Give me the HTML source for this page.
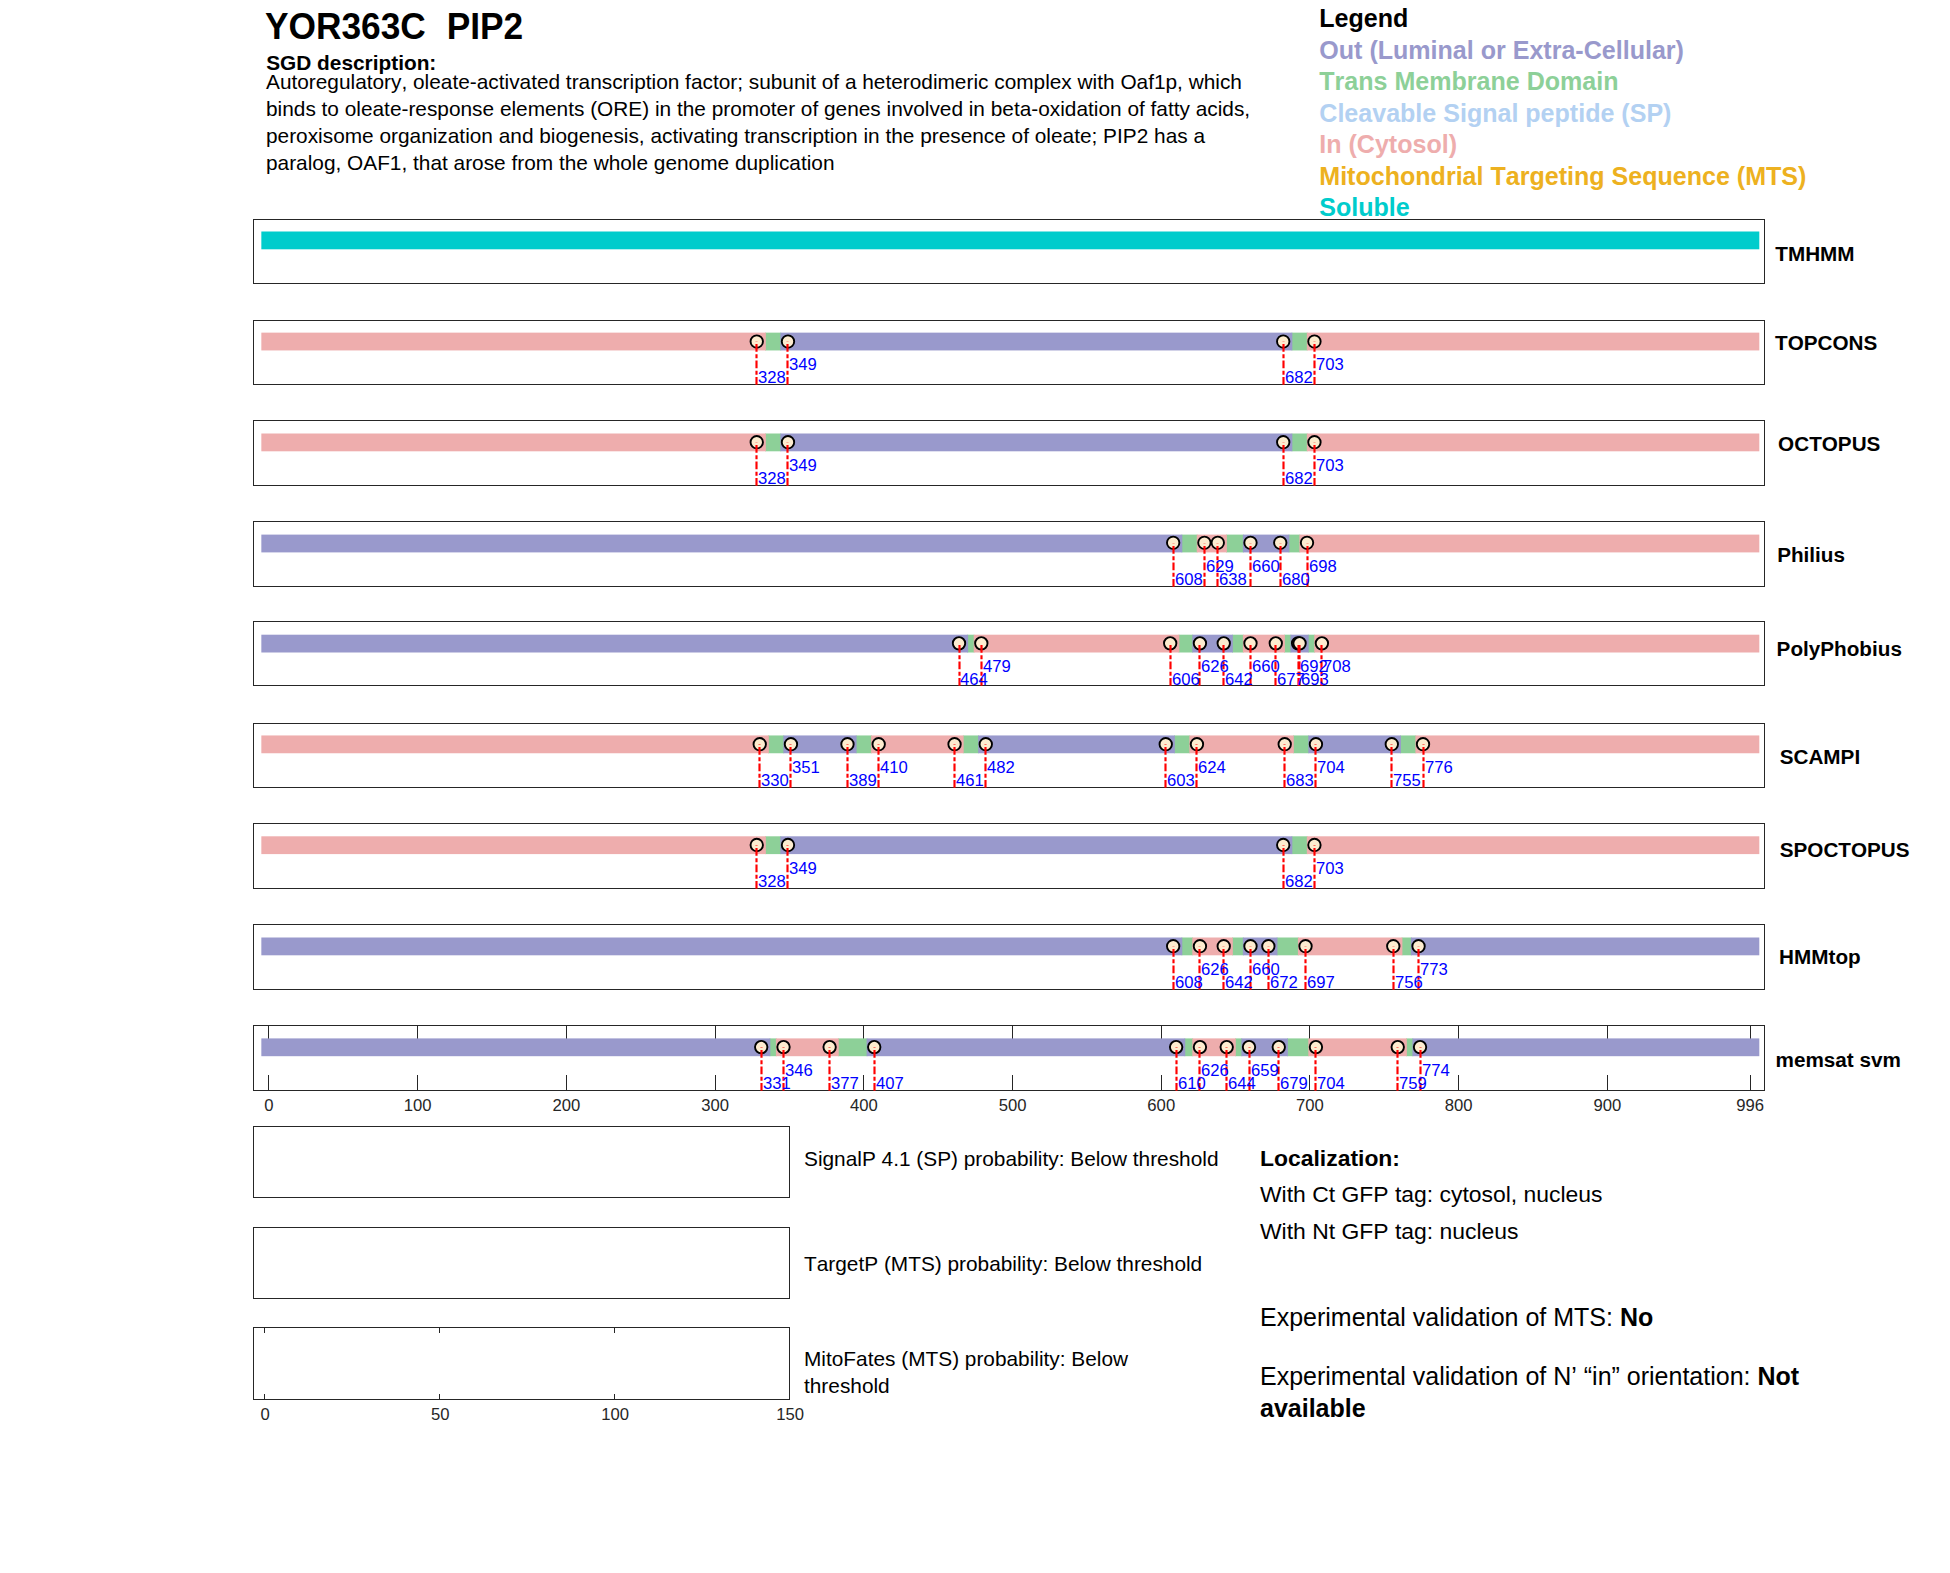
<!DOCTYPE html>
<html><head><meta charset="utf-8"><title>YOR363C PIP2</title>
<style>
html,body{margin:0;padding:0;background:#fff}
body{width:1950px;height:1573px;overflow:hidden}
svg{display:block}
svg text{font-family:"Liberation Sans",Arial,sans-serif;font-kerning:none}
.lb{font-size:16.67px;fill:#00f}
.tk{font-size:16.67px;fill:#262626}
.rn{font-size:20.7px;font-weight:bold;fill:#000}
</style></head><body>
<svg width="1950" height="1573" viewBox="0 0 1950 1573">
<rect width="100%" height="100%" fill="#fff"/>
<g>
<rect x="261.34" y="231.5" width="1497.96" height="17.8" fill="#00CCCC"/>
<rect x="253.5" y="219.5" width="1511.0" height="64" fill="none" stroke="#262626" stroke-width="1"/>
<text x="1775.3" y="261.0" class="rn">TMHMM</text>
</g>
<g>
<rect x="765.05" y="332.64" width="16.12" height="17.8" fill="#8DD098"/>
<rect x="1291.52" y="332.64" width="16.12" height="17.8" fill="#8DD098"/>
<rect x="261.34" y="332.64" width="504.51" height="17.8" fill="#EEADAD"/>
<rect x="780.37" y="332.64" width="511.95" height="17.8" fill="#9999CC"/>
<rect x="1306.84" y="332.64" width="452.46" height="17.8" fill="#EEADAD"/>
<rect x="253.5" y="320.5" width="1511.0" height="64" fill="none" stroke="#262626" stroke-width="1"/>
<circle cx="756.75" cy="341.55" r="6.2" fill="#FDECCF" stroke="#000" stroke-width="1.9"/>
<circle cx="787.98" cy="341.55" r="6.2" fill="#FDECCF" stroke="#000" stroke-width="1.9"/>
<circle cx="1283.22" cy="341.55" r="6.2" fill="#FDECCF" stroke="#000" stroke-width="1.9"/>
<circle cx="1314.45" cy="341.55" r="6.2" fill="#FDECCF" stroke="#000" stroke-width="1.9"/>
<path d="M756.5 384.8V341.54" stroke="#f00" stroke-width="2.15" stroke-dasharray="7.7 2.4 4 2.4" fill="none"/>
<path d="M787.5 384.8V341.54" stroke="#f00" stroke-width="2.15" stroke-dasharray="7.7 2.4 4 2.4" fill="none"/>
<path d="M1283.5 384.8V341.54" stroke="#f00" stroke-width="2.15" stroke-dasharray="7.7 2.4 4 2.4" fill="none"/>
<path d="M1314.5 384.8V341.54" stroke="#f00" stroke-width="2.15" stroke-dasharray="7.7 2.4 4 2.4" fill="none"/>
<text x="758" y="383" class="lb">328</text>
<text x="789" y="370" class="lb">349</text>
<text x="1285" y="383" class="lb">682</text>
<text x="1316" y="370" class="lb">703</text>
<text x="1775" y="350" class="rn">TOPCONS</text>
</g>
<g>
<rect x="765.05" y="433.5" width="16.12" height="17.8" fill="#8DD098"/>
<rect x="1291.52" y="433.5" width="16.12" height="17.8" fill="#8DD098"/>
<rect x="261.34" y="433.5" width="504.51" height="17.8" fill="#EEADAD"/>
<rect x="780.37" y="433.5" width="511.95" height="17.8" fill="#9999CC"/>
<rect x="1306.84" y="433.5" width="452.46" height="17.8" fill="#EEADAD"/>
<rect x="253.5" y="420.5" width="1511.0" height="65" fill="none" stroke="#262626" stroke-width="1"/>
<circle cx="756.75" cy="442.2" r="6.2" fill="#FDECCF" stroke="#000" stroke-width="1.9"/>
<circle cx="787.98" cy="442.2" r="6.2" fill="#FDECCF" stroke="#000" stroke-width="1.9"/>
<circle cx="1283.22" cy="442.2" r="6.2" fill="#FDECCF" stroke="#000" stroke-width="1.9"/>
<circle cx="1314.45" cy="442.2" r="6.2" fill="#FDECCF" stroke="#000" stroke-width="1.9"/>
<path d="M756.5 485.8V442.4" stroke="#f00" stroke-width="2.15" stroke-dasharray="7.7 2.4 4 2.4" fill="none"/>
<path d="M787.5 485.8V442.4" stroke="#f00" stroke-width="2.15" stroke-dasharray="7.7 2.4 4 2.4" fill="none"/>
<path d="M1283.5 485.8V442.4" stroke="#f00" stroke-width="2.15" stroke-dasharray="7.7 2.4 4 2.4" fill="none"/>
<path d="M1314.5 485.8V442.4" stroke="#f00" stroke-width="2.15" stroke-dasharray="7.7 2.4 4 2.4" fill="none"/>
<text x="758" y="484" class="lb">328</text>
<text x="789" y="471" class="lb">349</text>
<text x="1285" y="484" class="lb">682</text>
<text x="1316" y="471" class="lb">703</text>
<text x="1778.1" y="451" class="rn">OCTOPUS</text>
</g>
<g>
<rect x="1181.47" y="534.6" width="16.12" height="17.8" fill="#8DD098"/>
<rect x="1226.08" y="534.6" width="17.61" height="17.8" fill="#8DD098"/>
<rect x="1288.55" y="534.6" width="11.66" height="17.8" fill="#8DD098"/>
<rect x="261.34" y="534.6" width="920.93" height="17.8" fill="#9999CC"/>
<rect x="1196.79" y="534.6" width="30.1" height="17.8" fill="#EEADAD"/>
<rect x="1242.89" y="534.6" width="46.46" height="17.8" fill="#9999CC"/>
<rect x="1299.4" y="534.6" width="459.9" height="17.8" fill="#EEADAD"/>
<rect x="253.5" y="521.5" width="1511.0" height="65" fill="none" stroke="#262626" stroke-width="1"/>
<circle cx="1173.17" cy="542.8" r="6.2" fill="#FDECCF" stroke="#000" stroke-width="1.9"/>
<circle cx="1204.4" cy="542.8" r="6.2" fill="#FDECCF" stroke="#000" stroke-width="1.9"/>
<circle cx="1217.78" cy="542.8" r="6.2" fill="#FDECCF" stroke="#000" stroke-width="1.9"/>
<circle cx="1250.5" cy="542.8" r="6.2" fill="#FDECCF" stroke="#000" stroke-width="1.9"/>
<circle cx="1280.25" cy="542.8" r="6.2" fill="#FDECCF" stroke="#000" stroke-width="1.9"/>
<circle cx="1307.02" cy="542.8" r="6.2" fill="#FDECCF" stroke="#000" stroke-width="1.9"/>
<path d="M1173.5 586.8V543.5" stroke="#f00" stroke-width="2.15" stroke-dasharray="7.7 2.4 4 2.4" fill="none"/>
<path d="M1204.5 586.8V543.5" stroke="#f00" stroke-width="2.15" stroke-dasharray="7.7 2.4 4 2.4" fill="none"/>
<path d="M1217.5 586.8V543.5" stroke="#f00" stroke-width="2.15" stroke-dasharray="7.7 2.4 4 2.4" fill="none"/>
<path d="M1250.5 586.8V543.5" stroke="#f00" stroke-width="2.15" stroke-dasharray="7.7 2.4 4 2.4" fill="none"/>
<path d="M1280.5 586.8V543.5" stroke="#f00" stroke-width="2.15" stroke-dasharray="7.7 2.4 4 2.4" fill="none"/>
<path d="M1307.5 586.8V543.5" stroke="#f00" stroke-width="2.15" stroke-dasharray="7.7 2.4 4 2.4" fill="none"/>
<text x="1175" y="585" class="lb">608</text>
<text x="1206" y="572" class="lb">629</text>
<text x="1219" y="585" class="lb">638</text>
<text x="1252" y="572" class="lb">660</text>
<text x="1282" y="585" class="lb">680</text>
<text x="1309" y="572" class="lb">698</text>
<text x="1777.2" y="561.6" class="rn">Philius</text>
</g>
<g>
<rect x="967.31" y="634.7" width="7.2" height="17.8" fill="#8DD098"/>
<rect x="1178.49" y="634.7" width="14.63" height="17.8" fill="#8DD098"/>
<rect x="1232.03" y="634.7" width="11.66" height="17.8" fill="#8DD098"/>
<rect x="1284.08" y="634.7" width="7.2" height="17.8" fill="#8DD098"/>
<rect x="1307.88" y="634.7" width="7.2" height="17.8" fill="#8DD098"/>
<rect x="261.34" y="634.7" width="706.77" height="17.8" fill="#9999CC"/>
<rect x="973.71" y="634.7" width="205.59" height="17.8" fill="#EEADAD"/>
<rect x="1192.32" y="634.7" width="40.51" height="17.8" fill="#9999CC"/>
<rect x="1242.89" y="634.7" width="42" height="17.8" fill="#EEADAD"/>
<rect x="1290.48" y="634.7" width="18.2" height="17.8" fill="#9999CC"/>
<rect x="1314.27" y="634.7" width="445.03" height="17.8" fill="#EEADAD"/>
<rect x="253.5" y="621.5" width="1511.0" height="64" fill="none" stroke="#262626" stroke-width="1"/>
<circle cx="959.01" cy="643.35" r="6.2" fill="#FDECCF" stroke="#000" stroke-width="1.9"/>
<circle cx="981.32" cy="643.35" r="6.2" fill="#FDECCF" stroke="#000" stroke-width="1.9"/>
<circle cx="1170.19" cy="643.35" r="6.2" fill="#FDECCF" stroke="#000" stroke-width="1.9"/>
<circle cx="1199.94" cy="643.35" r="6.2" fill="#FDECCF" stroke="#000" stroke-width="1.9"/>
<circle cx="1223.73" cy="643.35" r="6.2" fill="#FDECCF" stroke="#000" stroke-width="1.9"/>
<circle cx="1250.5" cy="643.35" r="6.2" fill="#FDECCF" stroke="#000" stroke-width="1.9"/>
<circle cx="1275.78" cy="643.35" r="6.2" fill="#FDECCF" stroke="#000" stroke-width="1.9"/>
<circle cx="1298.09" cy="643.35" r="6.2" fill="#FDECCF" stroke="#000" stroke-width="1.9"/>
<circle cx="1299.58" cy="643.35" r="6.2" fill="#FDECCF" stroke="#000" stroke-width="1.9"/>
<circle cx="1321.89" cy="643.35" r="6.2" fill="#FDECCF" stroke="#000" stroke-width="1.9"/>
<path d="M959.5 685.8V643.6" stroke="#f00" stroke-width="2.15" stroke-dasharray="7.7 2.4 4 2.4" fill="none"/>
<path d="M981.5 685.8V643.6" stroke="#f00" stroke-width="2.15" stroke-dasharray="7.7 2.4 4 2.4" fill="none"/>
<path d="M1170.5 685.8V643.6" stroke="#f00" stroke-width="2.15" stroke-dasharray="7.7 2.4 4 2.4" fill="none"/>
<path d="M1199.5 685.8V643.6" stroke="#f00" stroke-width="2.15" stroke-dasharray="7.7 2.4 4 2.4" fill="none"/>
<path d="M1223.5 685.8V643.6" stroke="#f00" stroke-width="2.15" stroke-dasharray="7.7 2.4 4 2.4" fill="none"/>
<path d="M1250.5 685.8V643.6" stroke="#f00" stroke-width="2.15" stroke-dasharray="7.7 2.4 4 2.4" fill="none"/>
<path d="M1275.5 685.8V643.6" stroke="#f00" stroke-width="2.15" stroke-dasharray="7.7 2.4 4 2.4" fill="none"/>
<path d="M1298.5 685.8V643.6" stroke="#f00" stroke-width="2.15" stroke-dasharray="7.7 2.4 4 2.4" fill="none"/>
<path d="M1299.5 685.8V643.6" stroke="#f00" stroke-width="2.15" stroke-dasharray="7.7 2.4 4 2.4" fill="none"/>
<path d="M1321.5 685.8V643.6" stroke="#f00" stroke-width="2.15" stroke-dasharray="7.7 2.4 4 2.4" fill="none"/>
<text x="960" y="685" class="lb">464</text>
<text x="983" y="672" class="lb">479</text>
<text x="1172" y="685" class="lb">606</text>
<text x="1201" y="672" class="lb">626</text>
<text x="1225" y="685" class="lb">642</text>
<text x="1252" y="672" class="lb">660</text>
<text x="1277" y="685" class="lb">677</text>
<text x="1300" y="672" class="lb">692</text>
<text x="1301" y="685" class="lb">693</text>
<text x="1323" y="672" class="lb">708</text>
<text x="1776.6" y="656.0" class="rn">PolyPhobius</text>
</g>
<g>
<rect x="768.03" y="735.45" width="16.12" height="17.8" fill="#8DD098"/>
<rect x="855.77" y="735.45" width="16.12" height="17.8" fill="#8DD098"/>
<rect x="962.85" y="735.45" width="16.12" height="17.8" fill="#8DD098"/>
<rect x="1174.03" y="735.45" width="16.12" height="17.8" fill="#8DD098"/>
<rect x="1293.01" y="735.45" width="16.12" height="17.8" fill="#8DD098"/>
<rect x="1400.09" y="735.45" width="16.12" height="17.8" fill="#8DD098"/>
<rect x="261.34" y="735.45" width="507.49" height="17.8" fill="#EEADAD"/>
<rect x="783.34" y="735.45" width="73.23" height="17.8" fill="#9999CC"/>
<rect x="871.09" y="735.45" width="92.56" height="17.8" fill="#EEADAD"/>
<rect x="978.17" y="735.45" width="196.66" height="17.8" fill="#9999CC"/>
<rect x="1189.35" y="735.45" width="104.46" height="17.8" fill="#EEADAD"/>
<rect x="1308.33" y="735.45" width="92.56" height="17.8" fill="#9999CC"/>
<rect x="1415.4" y="735.45" width="343.9" height="17.8" fill="#EEADAD"/>
<rect x="253.5" y="723.5" width="1511.0" height="64" fill="none" stroke="#262626" stroke-width="1"/>
<circle cx="759.73" cy="744.2" r="6.2" fill="#FDECCF" stroke="#000" stroke-width="1.9"/>
<circle cx="790.96" cy="744.2" r="6.2" fill="#FDECCF" stroke="#000" stroke-width="1.9"/>
<circle cx="847.47" cy="744.2" r="6.2" fill="#FDECCF" stroke="#000" stroke-width="1.9"/>
<circle cx="878.7" cy="744.2" r="6.2" fill="#FDECCF" stroke="#000" stroke-width="1.9"/>
<circle cx="954.55" cy="744.2" r="6.2" fill="#FDECCF" stroke="#000" stroke-width="1.9"/>
<circle cx="985.78" cy="744.2" r="6.2" fill="#FDECCF" stroke="#000" stroke-width="1.9"/>
<circle cx="1165.73" cy="744.2" r="6.2" fill="#FDECCF" stroke="#000" stroke-width="1.9"/>
<circle cx="1196.96" cy="744.2" r="6.2" fill="#FDECCF" stroke="#000" stroke-width="1.9"/>
<circle cx="1284.71" cy="744.2" r="6.2" fill="#FDECCF" stroke="#000" stroke-width="1.9"/>
<circle cx="1315.94" cy="744.2" r="6.2" fill="#FDECCF" stroke="#000" stroke-width="1.9"/>
<circle cx="1391.79" cy="744.2" r="6.2" fill="#FDECCF" stroke="#000" stroke-width="1.9"/>
<circle cx="1423.02" cy="744.2" r="6.2" fill="#FDECCF" stroke="#000" stroke-width="1.9"/>
<path d="M759.5 787.8V744.35" stroke="#f00" stroke-width="2.15" stroke-dasharray="7.7 2.4 4 2.4" fill="none"/>
<path d="M790.5 787.8V744.35" stroke="#f00" stroke-width="2.15" stroke-dasharray="7.7 2.4 4 2.4" fill="none"/>
<path d="M847.5 787.8V744.35" stroke="#f00" stroke-width="2.15" stroke-dasharray="7.7 2.4 4 2.4" fill="none"/>
<path d="M878.5 787.8V744.35" stroke="#f00" stroke-width="2.15" stroke-dasharray="7.7 2.4 4 2.4" fill="none"/>
<path d="M954.5 787.8V744.35" stroke="#f00" stroke-width="2.15" stroke-dasharray="7.7 2.4 4 2.4" fill="none"/>
<path d="M985.5 787.8V744.35" stroke="#f00" stroke-width="2.15" stroke-dasharray="7.7 2.4 4 2.4" fill="none"/>
<path d="M1165.5 787.8V744.35" stroke="#f00" stroke-width="2.15" stroke-dasharray="7.7 2.4 4 2.4" fill="none"/>
<path d="M1196.5 787.8V744.35" stroke="#f00" stroke-width="2.15" stroke-dasharray="7.7 2.4 4 2.4" fill="none"/>
<path d="M1284.5 787.8V744.35" stroke="#f00" stroke-width="2.15" stroke-dasharray="7.7 2.4 4 2.4" fill="none"/>
<path d="M1315.5 787.8V744.35" stroke="#f00" stroke-width="2.15" stroke-dasharray="7.7 2.4 4 2.4" fill="none"/>
<path d="M1391.5 787.8V744.35" stroke="#f00" stroke-width="2.15" stroke-dasharray="7.7 2.4 4 2.4" fill="none"/>
<path d="M1423.5 787.8V744.35" stroke="#f00" stroke-width="2.15" stroke-dasharray="7.7 2.4 4 2.4" fill="none"/>
<text x="761" y="786" class="lb">330</text>
<text x="792" y="773" class="lb">351</text>
<text x="849" y="786" class="lb">389</text>
<text x="880" y="773" class="lb">410</text>
<text x="956" y="786" class="lb">461</text>
<text x="987" y="773" class="lb">482</text>
<text x="1167" y="786" class="lb">603</text>
<text x="1198" y="773" class="lb">624</text>
<text x="1286" y="786" class="lb">683</text>
<text x="1317" y="773" class="lb">704</text>
<text x="1393" y="786" class="lb">755</text>
<text x="1425" y="773" class="lb">776</text>
<text x="1779.7" y="763.6" class="rn">SCAMPI</text>
</g>
<g>
<rect x="765.05" y="836.3" width="16.12" height="17.8" fill="#8DD098"/>
<rect x="1291.52" y="836.3" width="16.12" height="17.8" fill="#8DD098"/>
<rect x="261.34" y="836.3" width="504.51" height="17.8" fill="#EEADAD"/>
<rect x="780.37" y="836.3" width="511.95" height="17.8" fill="#9999CC"/>
<rect x="1306.84" y="836.3" width="452.46" height="17.8" fill="#EEADAD"/>
<rect x="253.5" y="823.5" width="1511.0" height="65" fill="none" stroke="#262626" stroke-width="1"/>
<circle cx="756.75" cy="845" r="6.2" fill="#FDECCF" stroke="#000" stroke-width="1.9"/>
<circle cx="787.98" cy="845" r="6.2" fill="#FDECCF" stroke="#000" stroke-width="1.9"/>
<circle cx="1283.22" cy="845" r="6.2" fill="#FDECCF" stroke="#000" stroke-width="1.9"/>
<circle cx="1314.45" cy="845" r="6.2" fill="#FDECCF" stroke="#000" stroke-width="1.9"/>
<path d="M756.5 888.8V845.2" stroke="#f00" stroke-width="2.15" stroke-dasharray="7.7 2.4 4 2.4" fill="none"/>
<path d="M787.5 888.8V845.2" stroke="#f00" stroke-width="2.15" stroke-dasharray="7.7 2.4 4 2.4" fill="none"/>
<path d="M1283.5 888.8V845.2" stroke="#f00" stroke-width="2.15" stroke-dasharray="7.7 2.4 4 2.4" fill="none"/>
<path d="M1314.5 888.8V845.2" stroke="#f00" stroke-width="2.15" stroke-dasharray="7.7 2.4 4 2.4" fill="none"/>
<text x="758" y="887" class="lb">328</text>
<text x="789" y="874" class="lb">349</text>
<text x="1285" y="887" class="lb">682</text>
<text x="1316" y="874" class="lb">703</text>
<text x="1779.7" y="856.7" class="rn">SPOCTOPUS</text>
</g>
<g>
<rect x="1181.47" y="937.5" width="11.66" height="17.8" fill="#8DD098"/>
<rect x="1232.03" y="937.5" width="11.66" height="17.8" fill="#8DD098"/>
<rect x="1276.65" y="937.5" width="22.07" height="17.8" fill="#8DD098"/>
<rect x="1401.57" y="937.5" width="10.17" height="17.8" fill="#8DD098"/>
<rect x="261.34" y="937.5" width="920.93" height="17.8" fill="#9999CC"/>
<rect x="1192.32" y="937.5" width="40.51" height="17.8" fill="#EEADAD"/>
<rect x="1242.89" y="937.5" width="34.56" height="17.8" fill="#9999CC"/>
<rect x="1297.92" y="937.5" width="104.46" height="17.8" fill="#EEADAD"/>
<rect x="1410.94" y="937.5" width="348.36" height="17.8" fill="#9999CC"/>
<rect x="253.5" y="924.5" width="1511.0" height="65" fill="none" stroke="#262626" stroke-width="1"/>
<circle cx="1173.17" cy="946.2" r="6.2" fill="#FDECCF" stroke="#000" stroke-width="1.9"/>
<circle cx="1199.94" cy="946.2" r="6.2" fill="#FDECCF" stroke="#000" stroke-width="1.9"/>
<circle cx="1223.73" cy="946.2" r="6.2" fill="#FDECCF" stroke="#000" stroke-width="1.9"/>
<circle cx="1250.5" cy="946.2" r="6.2" fill="#FDECCF" stroke="#000" stroke-width="1.9"/>
<circle cx="1268.35" cy="946.2" r="6.2" fill="#FDECCF" stroke="#000" stroke-width="1.9"/>
<circle cx="1305.53" cy="946.2" r="6.2" fill="#FDECCF" stroke="#000" stroke-width="1.9"/>
<circle cx="1393.27" cy="946.2" r="6.2" fill="#FDECCF" stroke="#000" stroke-width="1.9"/>
<circle cx="1418.56" cy="946.2" r="6.2" fill="#FDECCF" stroke="#000" stroke-width="1.9"/>
<path d="M1173.5 989.8V946.4" stroke="#f00" stroke-width="2.15" stroke-dasharray="7.7 2.4 4 2.4" fill="none"/>
<path d="M1199.5 989.8V946.4" stroke="#f00" stroke-width="2.15" stroke-dasharray="7.7 2.4 4 2.4" fill="none"/>
<path d="M1223.5 989.8V946.4" stroke="#f00" stroke-width="2.15" stroke-dasharray="7.7 2.4 4 2.4" fill="none"/>
<path d="M1250.5 989.8V946.4" stroke="#f00" stroke-width="2.15" stroke-dasharray="7.7 2.4 4 2.4" fill="none"/>
<path d="M1268.5 989.8V946.4" stroke="#f00" stroke-width="2.15" stroke-dasharray="7.7 2.4 4 2.4" fill="none"/>
<path d="M1305.5 989.8V946.4" stroke="#f00" stroke-width="2.15" stroke-dasharray="7.7 2.4 4 2.4" fill="none"/>
<path d="M1393.5 989.8V946.4" stroke="#f00" stroke-width="2.15" stroke-dasharray="7.7 2.4 4 2.4" fill="none"/>
<path d="M1418.5 989.8V946.4" stroke="#f00" stroke-width="2.15" stroke-dasharray="7.7 2.4 4 2.4" fill="none"/>
<text x="1175" y="988" class="lb">608</text>
<text x="1201" y="975" class="lb">626</text>
<text x="1225" y="988" class="lb">642</text>
<text x="1252" y="975" class="lb">660</text>
<text x="1270" y="988" class="lb">672</text>
<text x="1307" y="988" class="lb">697</text>
<text x="1395" y="988" class="lb">756</text>
<text x="1420" y="975" class="lb">773</text>
<text x="1779.1" y="964.1" class="rn">HMMtop</text>
</g>
<g>
<path d="M268.5 1025.5v15.5M268.5 1090.5v-15.5" stroke="#262626" stroke-width="1" fill="none"/>
<path d="M417.5 1025.5v15.5M417.5 1090.5v-15.5" stroke="#262626" stroke-width="1" fill="none"/>
<path d="M566.5 1025.5v15.5M566.5 1090.5v-15.5" stroke="#262626" stroke-width="1" fill="none"/>
<path d="M715.5 1025.5v15.5M715.5 1090.5v-15.5" stroke="#262626" stroke-width="1" fill="none"/>
<path d="M863.5 1025.5v15.5M863.5 1090.5v-15.5" stroke="#262626" stroke-width="1" fill="none"/>
<path d="M1012.5 1025.5v15.5M1012.5 1090.5v-15.5" stroke="#262626" stroke-width="1" fill="none"/>
<path d="M1161.5 1025.5v15.5M1161.5 1090.5v-15.5" stroke="#262626" stroke-width="1" fill="none"/>
<path d="M1309.5 1025.5v15.5M1309.5 1090.5v-15.5" stroke="#262626" stroke-width="1" fill="none"/>
<path d="M1458.5 1025.5v15.5M1458.5 1090.5v-15.5" stroke="#262626" stroke-width="1" fill="none"/>
<path d="M1607.5 1025.5v15.5M1607.5 1090.5v-15.5" stroke="#262626" stroke-width="1" fill="none"/>
<path d="M1750.5 1025.5v15.5M1750.5 1090.5v-15.5" stroke="#262626" stroke-width="1" fill="none"/>
<rect x="769.51" y="1038.4" width="7.2" height="17.8" fill="#8DD098"/>
<rect x="837.92" y="1038.4" width="29.5" height="17.8" fill="#8DD098"/>
<rect x="1184.44" y="1038.4" width="8.68" height="17.8" fill="#8DD098"/>
<rect x="1235.01" y="1038.4" width="7.2" height="17.8" fill="#8DD098"/>
<rect x="1287.06" y="1038.4" width="22.07" height="17.8" fill="#8DD098"/>
<rect x="1406.03" y="1038.4" width="7.2" height="17.8" fill="#8DD098"/>
<rect x="261.34" y="1038.4" width="508.98" height="17.8" fill="#9999CC"/>
<rect x="775.91" y="1038.4" width="62.82" height="17.8" fill="#EEADAD"/>
<rect x="866.63" y="1038.4" width="318.61" height="17.8" fill="#9999CC"/>
<rect x="1192.32" y="1038.4" width="43.48" height="17.8" fill="#EEADAD"/>
<rect x="1241.4" y="1038.4" width="46.46" height="17.8" fill="#9999CC"/>
<rect x="1308.33" y="1038.4" width="98.51" height="17.8" fill="#EEADAD"/>
<rect x="1412.43" y="1038.4" width="346.87" height="17.8" fill="#9999CC"/>
<rect x="253.5" y="1025.5" width="1511.0" height="65" fill="none" stroke="#262626" stroke-width="1"/>
<circle cx="761.21" cy="1047.1" r="6.2" fill="#FDECCF" stroke="#000" stroke-width="1.9"/>
<circle cx="783.52" cy="1047.1" r="6.2" fill="#FDECCF" stroke="#000" stroke-width="1.9"/>
<circle cx="829.62" cy="1047.1" r="6.2" fill="#FDECCF" stroke="#000" stroke-width="1.9"/>
<circle cx="874.24" cy="1047.1" r="6.2" fill="#FDECCF" stroke="#000" stroke-width="1.9"/>
<circle cx="1176.14" cy="1047.1" r="6.2" fill="#FDECCF" stroke="#000" stroke-width="1.9"/>
<circle cx="1199.94" cy="1047.1" r="6.2" fill="#FDECCF" stroke="#000" stroke-width="1.9"/>
<circle cx="1226.71" cy="1047.1" r="6.2" fill="#FDECCF" stroke="#000" stroke-width="1.9"/>
<circle cx="1249.01" cy="1047.1" r="6.2" fill="#FDECCF" stroke="#000" stroke-width="1.9"/>
<circle cx="1278.76" cy="1047.1" r="6.2" fill="#FDECCF" stroke="#000" stroke-width="1.9"/>
<circle cx="1315.94" cy="1047.1" r="6.2" fill="#FDECCF" stroke="#000" stroke-width="1.9"/>
<circle cx="1397.73" cy="1047.1" r="6.2" fill="#FDECCF" stroke="#000" stroke-width="1.9"/>
<circle cx="1420.04" cy="1047.1" r="6.2" fill="#FDECCF" stroke="#000" stroke-width="1.9"/>
<path d="M761.5 1090.8V1047.3" stroke="#f00" stroke-width="2.15" stroke-dasharray="7.7 2.4 4 2.4" fill="none"/>
<path d="M783.5 1090.8V1047.3" stroke="#f00" stroke-width="2.15" stroke-dasharray="7.7 2.4 4 2.4" fill="none"/>
<path d="M829.5 1090.8V1047.3" stroke="#f00" stroke-width="2.15" stroke-dasharray="7.7 2.4 4 2.4" fill="none"/>
<path d="M874.5 1090.8V1047.3" stroke="#f00" stroke-width="2.15" stroke-dasharray="7.7 2.4 4 2.4" fill="none"/>
<path d="M1176.5 1090.8V1047.3" stroke="#f00" stroke-width="2.15" stroke-dasharray="7.7 2.4 4 2.4" fill="none"/>
<path d="M1199.5 1090.8V1047.3" stroke="#f00" stroke-width="2.15" stroke-dasharray="7.7 2.4 4 2.4" fill="none"/>
<path d="M1226.5 1090.8V1047.3" stroke="#f00" stroke-width="2.15" stroke-dasharray="7.7 2.4 4 2.4" fill="none"/>
<path d="M1249.5 1090.8V1047.3" stroke="#f00" stroke-width="2.15" stroke-dasharray="7.7 2.4 4 2.4" fill="none"/>
<path d="M1278.5 1090.8V1047.3" stroke="#f00" stroke-width="2.15" stroke-dasharray="7.7 2.4 4 2.4" fill="none"/>
<path d="M1315.5 1090.8V1047.3" stroke="#f00" stroke-width="2.15" stroke-dasharray="7.7 2.4 4 2.4" fill="none"/>
<path d="M1397.5 1090.8V1047.3" stroke="#f00" stroke-width="2.15" stroke-dasharray="7.7 2.4 4 2.4" fill="none"/>
<path d="M1420.5 1090.8V1047.3" stroke="#f00" stroke-width="2.15" stroke-dasharray="7.7 2.4 4 2.4" fill="none"/>
<text x="763" y="1089" class="lb">331</text>
<text x="785" y="1076" class="lb">346</text>
<text x="831" y="1089" class="lb">377</text>
<text x="876" y="1089" class="lb">407</text>
<text x="1178" y="1089" class="lb">610</text>
<text x="1201" y="1076" class="lb">626</text>
<text x="1228" y="1089" class="lb">644</text>
<text x="1251" y="1076" class="lb">659</text>
<text x="1280" y="1089" class="lb">679</text>
<text x="1317" y="1089" class="lb">704</text>
<text x="1399" y="1089" class="lb">759</text>
<text x="1422" y="1076" class="lb">774</text>
<text x="1775.5" y="1067.1" class="rn">memsat svm</text>
</g>
<text x="268.95" y="1111" class="tk" text-anchor="middle">0</text>
<text x="417.67" y="1111" class="tk" text-anchor="middle">100</text>
<text x="566.39" y="1111" class="tk" text-anchor="middle">200</text>
<text x="715.11" y="1111" class="tk" text-anchor="middle">300</text>
<text x="863.83" y="1111" class="tk" text-anchor="middle">400</text>
<text x="1012.55" y="1111" class="tk" text-anchor="middle">500</text>
<text x="1161.27" y="1111" class="tk" text-anchor="middle">600</text>
<text x="1309.99" y="1111" class="tk" text-anchor="middle">700</text>
<text x="1458.71" y="1111" class="tk" text-anchor="middle">800</text>
<text x="1607.43" y="1111" class="tk" text-anchor="middle">900</text>
<text x="1750.2" y="1111" class="tk" text-anchor="middle">996</text>
<rect x="253.5" y="1126.5" width="536.0" height="71.0" fill="none" stroke="#262626" stroke-width="1"/>
<rect x="253.5" y="1227.5" width="536.0" height="71.0" fill="none" stroke="#262626" stroke-width="1"/>
<rect x="253.5" y="1327.5" width="536.0" height="72.0" fill="none" stroke="#262626" stroke-width="1"/>
<path d="M264.5 1327.5v5.5M264.5 1399.5v-5.5" stroke="#262626" stroke-width="1" fill="none"/>
<text x="265.2" y="1420" class="tk" text-anchor="middle">0</text>
<path d="M439.5 1327.5v5.5M439.5 1399.5v-5.5" stroke="#262626" stroke-width="1" fill="none"/>
<text x="440.2" y="1420" class="tk" text-anchor="middle">50</text>
<path d="M614.5 1327.5v5.5M614.5 1399.5v-5.5" stroke="#262626" stroke-width="1" fill="none"/>
<text x="615.2" y="1420" class="tk" text-anchor="middle">100</text>
<text x="790.2" y="1420" class="tk" text-anchor="middle">150</text>
<text transform="translate(265,39) scale(1,1.03)" font-size="35.3" font-weight="bold" word-spacing="0.6" xml:space="preserve" style="white-space:pre">YOR363C  PIP2</text>
<text x="266.2" y="70" font-size="20.83" font-weight="bold" fill="#000">SGD description:</text>
<text x="266" y="89" font-size="20.83" fill="#000">Autoregulatory, oleate-activated transcription factor; subunit of a heterodimeric complex with Oaf1p, which</text>
<text x="266" y="116" font-size="20.83" fill="#000">binds to oleate-response elements (ORE) in the promoter of genes involved in beta-oxidation of fatty acids,</text>
<text x="266" y="143" font-size="20.83" fill="#000">peroxisome organization and biogenesis, activating transcription in the presence of oleate; PIP2 has a</text>
<text x="266" y="170" font-size="20.83" fill="#000">paralog, OAF1, that arose from the whole genome duplication</text>
<text x="1319.3" y="27" font-size="25.05" font-weight="bold" fill="#000">Legend</text>
<text x="1319.3" y="59" font-size="25.05" font-weight="bold" fill="#9999CC">Out (Luminal or Extra-Cellular)</text>
<text x="1319.3" y="90" font-size="25.05" font-weight="bold" fill="#8DD098">Trans Membrane Domain</text>
<text x="1319.3" y="122" font-size="25.05" font-weight="bold" fill="#B3D1F2">Cleavable Signal peptide (SP)</text>
<text x="1319.3" y="153" font-size="25.05" font-weight="bold" fill="#EEADAD">In (Cytosol)</text>
<text x="1319.3" y="185" font-size="25.05" font-weight="bold" fill="#EDB120">Mitochondrial Targeting Sequence (MTS)</text>
<text x="1319.3" y="216" font-size="25.05" font-weight="bold" fill="#00CCCC">Soluble</text>
<text x="804" y="1166.2" font-size="20.83" fill="#000">SignalP 4.1 (SP) probability: Below threshold</text>
<text x="804" y="1270.8" font-size="20.83" fill="#000">TargetP (MTS) probability: Below threshold</text>
<text x="804" y="1366" font-size="20.83" fill="#000">MitoFates (MTS) probability: Below</text>
<text x="804" y="1393" font-size="20.83" fill="#000">threshold</text>
<text x="1260" y="1166" font-size="22.92" font-weight="bold" fill="#000">Localization:</text>
<text x="1260" y="1202.3" font-size="22.92" fill="#000">With Ct GFP tag: cytosol, nucleus</text>
<text x="1260" y="1239.2" font-size="22.92" fill="#000">With Nt GFP tag: nucleus</text>
<text x="1260" y="1326" font-size="25" fill="#000">Experimental validation of MTS: <tspan font-weight="bold">No</tspan></text>
<text x="1260" y="1385" font-size="25" fill="#000">Experimental validation of N’ “in” orientation: <tspan font-weight="bold">Not</tspan></text>
<text x="1260" y="1417" font-size="25" font-weight="bold" fill="#000">available</text>
</svg>
</body></html>
